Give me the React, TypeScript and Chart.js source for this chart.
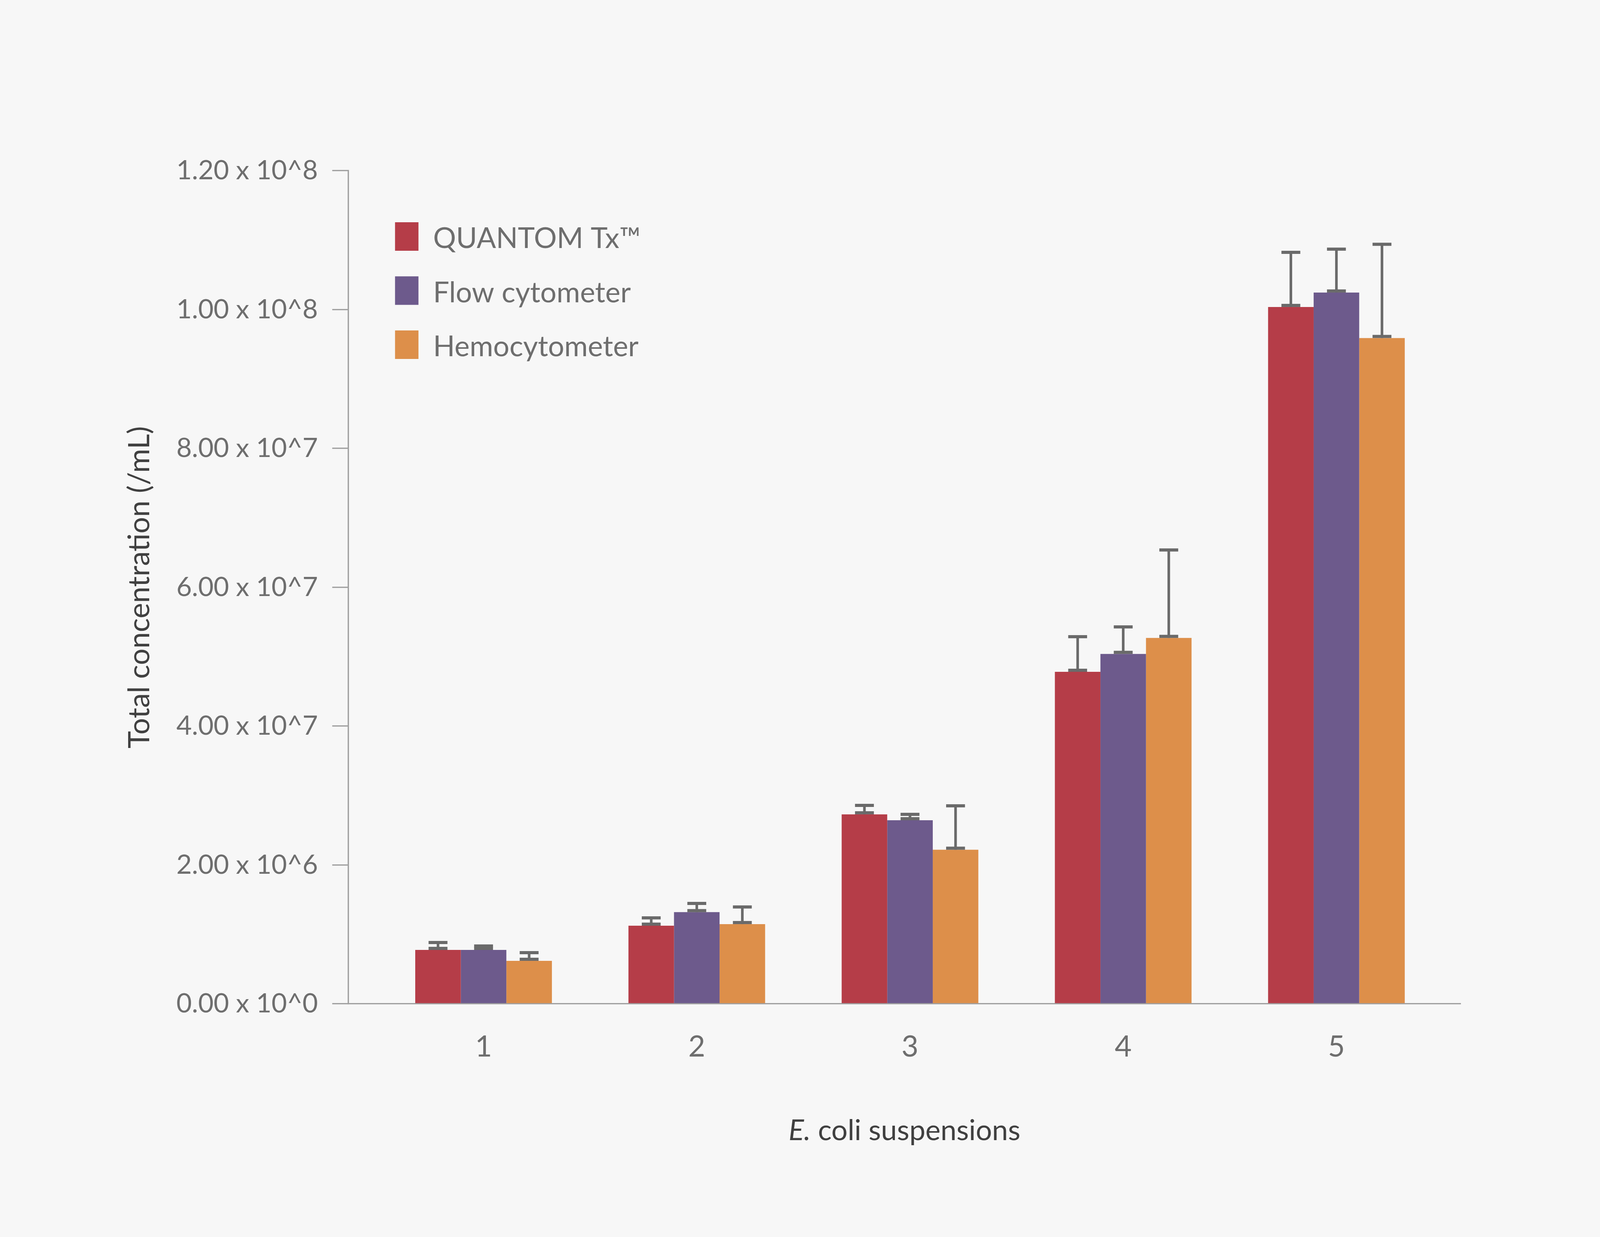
import React, { useEffect, useRef } from "react";
import { Chart, registerables } from "chart.js";

Chart.register(...registerables);

const categories = [1, 2, 3, 4, 5];
const seriesNames = ["QUANTOM Tx™", "Flow cytometer", "Hemocytometer"];
const seriesColors = ["#b53d48", "#6d5a8c", "#dd8f4a"];
const quantomValues = [7.76e6, 1.125e7, 2.729e7, 4.782e7, 1.0037e8];
const quantomErrors = [1.07e6, 1.13e6, 1.29e6, 5.06e6, 7.87e6];
const flowValues = [7.76e6, 1.32e7, 2.644e7, 5.04e7, 1.0245e8];
const flowErrors = [0.57e6, 1.26e6, 0.85e6, 3.89e6, 6.25e6];
const hemoValues = [6.19e6, 1.148e7, 2.219e7, 5.27e7, 9.59e7];
const hemoErrors = [1.18e6, 2.47e6, 6.33e6, 1.267e7, 1.35e7];
const yTickLabels = [
  "0.00 x 10^0",
  "2.00 x 10^6",
  "4.00 x 10^7",
  "6.00 x 10^7",
  "8.00 x 10^7",
  "1.00 x 10^8",
  "1.20 x 10^8",
];
const yTitle = "Total concentration (/mL)";
const xTitleItalic = "E.";
const xTitleRest = " coli suspensions";

const FONT = "Lato, 'Open Sans', sans-serif";
const AXIS = "#a0a0a0";
const TEXT = "#6e6e6e";
const DARK = "#404040";
// the layout below is measured on a 4917 x 3167 picture and scaled to the real canvas
const REF_W = 4917;
const REF_H = 3167;

const App: React.FC = () => {
  const boxRef = useRef<HTMLDivElement | null>(null);
  const canvasRef = useRef<HTMLCanvasElement | null>(null);
  const chartRef = useRef<any>(null);

  useEffect(() => {
    if (!canvasRef.current || !boxRef.current) return;
    const ctx = canvasRef.current.getContext("2d");
    if (!ctx) return;
    if (chartRef.current) chartRef.current.destroy();

    const sx = boxRef.current.clientWidth / REF_W;
    const sy = boxRef.current.clientHeight / REF_H;
    const sf = Math.min(sx, sy);

    // one-sided (upper) error bars with a cap at both ends
    const errorBars = {
      id: "errorBars",
      afterDatasetsDraw(chart: any) {
        const c = chart.ctx;
        const yScale = chart.scales.y;
        c.save();
        c.fillStyle = "#6a6a6a";
        const stem = 8 * sx;
        const capW = 58 * sx;
        const capH = 8 * sy;
        chart.data.datasets.forEach((ds: any, di: number) => {
          const meta = chart.getDatasetMeta(di);
          meta.data.forEach((bar: any, i: number) => {
            const v = ds.data[i].y;
            const x = bar.x;
            const y0 = yScale.getPixelForValue(v);
            const y1 = yScale.getPixelForValue(v + ds.errors[i]);
            c.fillRect(x - stem / 2, y1, stem, y0 - y1);
            c.fillRect(x - capW / 2, y1 - capH / 2, capW, capH);
            c.fillRect(x - capW / 2, y0 - capH, capW, capH);
          });
        });
        c.restore();
      },
    };

    const legendAndTitle = {
      id: "legendAndTitle",
      afterDraw(chart: any) {
        const c = chart.ctx;
        const area = chart.chartArea;
        c.save();
        c.textBaseline = "alphabetic";
        c.textAlign = "left";
        c.font = `${88 * sf}px ${FONT}`;
        chart.data.datasets.forEach((ds: any, i: number) => {
          const left = area.left + 144 * sx;
          const top = area.top + (132 + i * 138.5) * sy;
          c.fillStyle = ds.backgroundColor;
          c.fillRect(left, top, 72 * sx, 73 * sy);
          c.fillStyle = TEXT;
          c.fillText(ds.label, left + 117 * sx, top + 66 * sy);
        });
        // x axis title, genus in italics
        const cx = (area.left + area.right) / 2;
        const baseline = area.bottom + 349 * sy;
        const size = 88 * sf;
        c.font = `italic ${size}px ${FONT}`;
        const w1 = c.measureText(xTitleItalic).width;
        c.font = `${size}px ${FONT}`;
        const w2 = c.measureText(xTitleRest).width;
        const start = cx - (w1 + w2) / 2;
        c.fillStyle = DARK;
        c.font = `italic ${size}px ${FONT}`;
        c.fillText(xTitleItalic, start, baseline);
        c.font = `${size}px ${FONT}`;
        c.fillText(xTitleRest, start + w1, baseline);
        c.restore();
      },
    };

    const series = [
      { values: quantomValues, errors: quantomErrors },
      { values: flowValues, errors: flowErrors },
      { values: hemoValues, errors: hemoErrors },
    ];
    const yTitleSize = 90 * sf;

    chartRef.current = new Chart(ctx, {
      type: "bar",
      data: {
        datasets: series.map((s, i) => ({
          label: seriesNames[i],
          data: categories.map((c, j) => ({ x: c, y: s.values[j] })),
          errors: s.errors,
          backgroundColor: seriesColors[i],
          borderWidth: 0,
          categoryPercentage: 0.641,
          barPercentage: 1,
        })) as any,
      },
      options: {
        animation: false,
        responsive: true,
        maintainAspectRatio: false,
        layout: { padding: { top: 437 * sy, right: 428 * sx, left: 0, bottom: 0 } },
        plugins: {
          legend: { display: false },
          tooltip: { enabled: false },
        },
        scales: {
          x: {
            type: "linear",
            min: 0.365,
            max: 5.583,
            offset: false,
            afterBuildTicks: (scale: any) => {
              scale.ticks = categories.map((c) => ({ value: c }));
            },
            afterFit: (scale: any) => {
              scale.height = 597 * sy;
            },
            grid: { display: false, drawTicks: false, offset: false },
            border: { display: true, color: AXIS, width: 4 * sf },
            ticks: {
              padding: 66 * sy,
              color: TEXT,
              font: { family: FONT, size: 90 * sf },
              callback: (v: any) => String(v),
            },
          },
          y: {
            min: 0,
            max: 1.2e8,
            afterFit: (scale: any) => {
              scale.width = 1070 * sx;
            },
            grid: {
              drawOnChartArea: false,
              drawTicks: true,
              tickLength: 49 * sx,
              color: AXIS,
              lineWidth: 4 * sf,
            },
            border: { display: true, color: AXIS, width: 4 * sf },
            ticks: {
              stepSize: 2e7,
              padding: 44 * sx,
              color: TEXT,
              font: { family: FONT, size: 82 * sf },
              callback: (_v: any, i: number) => yTickLabels[i],
            },
            title: {
              display: true,
              text: yTitle,
              color: DARK,
              font: { family: FONT, size: yTitleSize },
              padding: { top: 430 * sx - yTitleSize * 0.6, bottom: 0 },
            },
          },
        },
      },
      plugins: [errorBars, legendAndTitle],
    });

    return () => {
      chartRef.current?.destroy();
    };
  }, []);

  return (
    <div
      ref={boxRef}
      style={{ position: "fixed", left: 0, top: 0, width: "100vw", height: "100vh", background: "#f7f7f7" }}
    >
      <canvas ref={canvasRef}></canvas>
    </div>
  );
};

export default App;
